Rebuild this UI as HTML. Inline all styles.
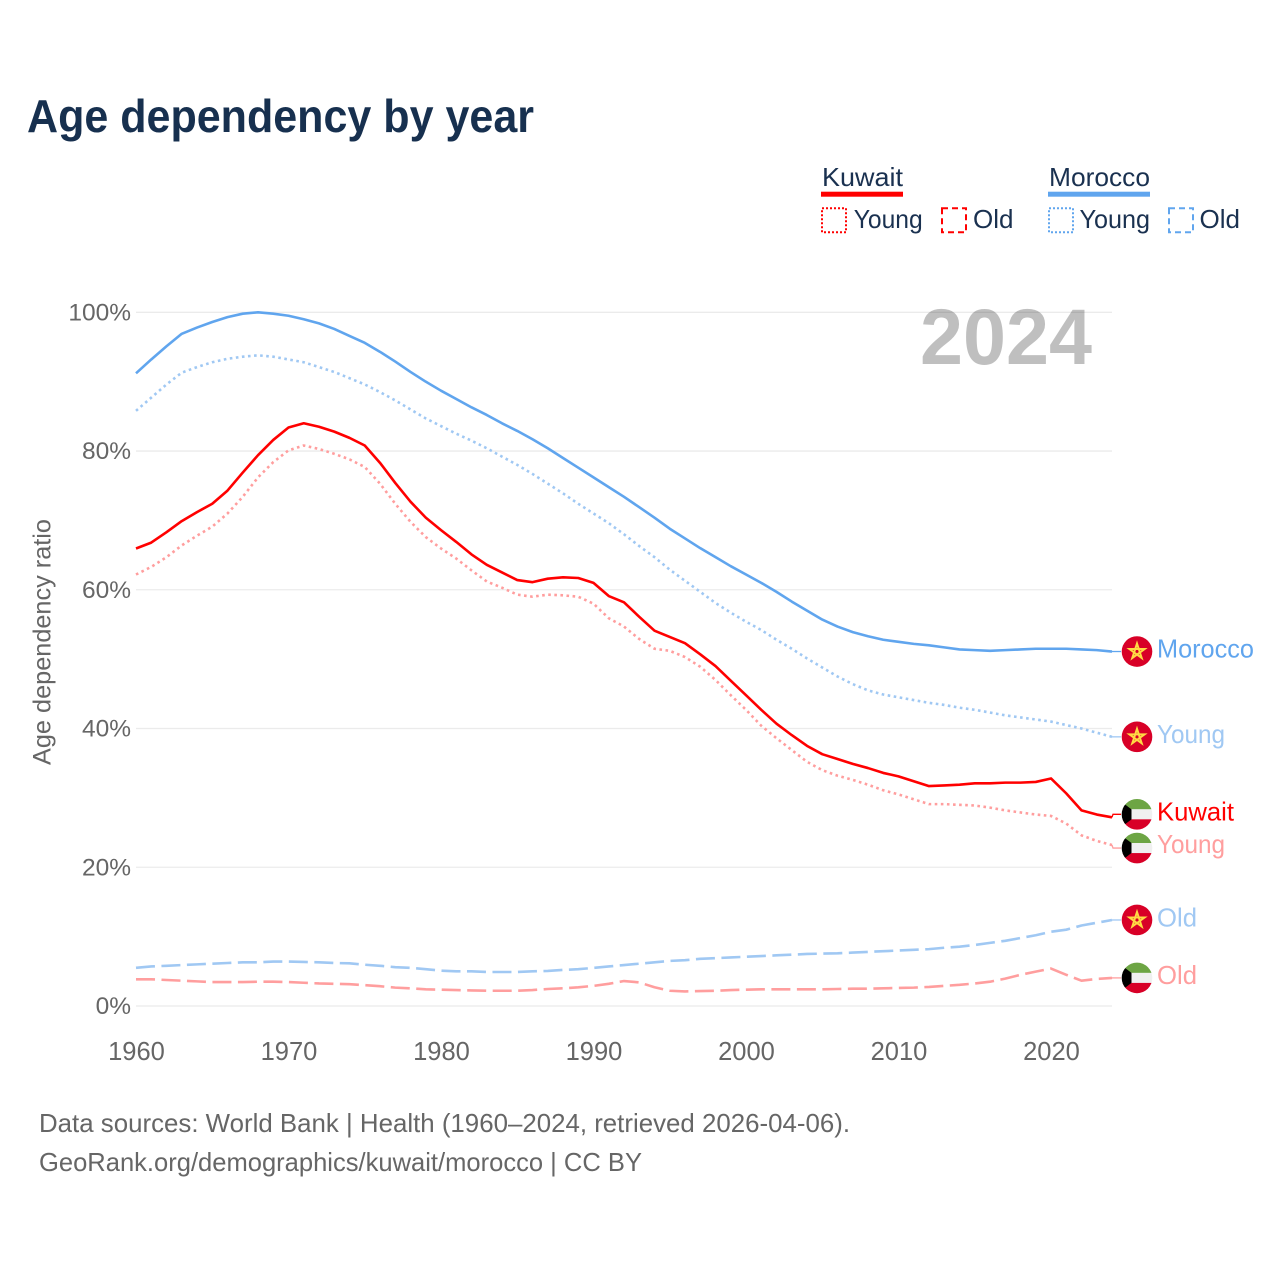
<!DOCTYPE html>
<html lang="en">
<head>
<meta charset="utf-8">
<title>Age dependency by year</title>
<style>
html,body{margin:0;padding:0;background:#fff;width:1280px;height:1280px;overflow:hidden}
svg{display:block}
text{font-family:"Liberation Sans",sans-serif}
</style>
</head>
<body>
<svg id="chart" xmlns="http://www.w3.org/2000/svg" width="1280" height="1280" viewBox="0 0 1280 1280">
  <defs>
    <clipPath id="flag-clip"><circle cx="0" cy="0" r="15.3"/></clipPath>
    <g id="flag-morocco">
      <circle cx="0" cy="0" r="15.3" fill="#d80027"/>
      <path d="M0,-8 L4.7,6.47 L-7.6,-2.47 L7.6,-2.47 L-4.7,6.47 Z" fill="none" stroke="#ffda44" stroke-width="2"/>
    </g>
    <g id="flag-kuwait" clip-path="url(#flag-clip)">
      <rect x="-16" y="-16" width="32" height="11" fill="#6da544"/>
      <rect x="-16" y="-5" width="32" height="10" fill="#f0f0f0"/>
      <rect x="-16" y="5" width="32" height="11" fill="#d80027"/>
      <polygon points="-16,-13 -5.5,-5 -5.5,5 -16,13" fill="#000"/>
    </g>
  </defs>

  <text x="27" y="132" font-size="46" font-weight="700" fill="#17304f" textLength="507" lengthAdjust="spacingAndGlyphs">Age dependency by year</text>

  <g>
    <g>
      <text x="822" y="186" font-size="26" fill="#1a3150" textLength="81" lengthAdjust="spacingAndGlyphs">Kuwait</text>
      <rect x="821" y="191.7" width="82" height="5" fill="#ff0000"/>
      <rect x="822" y="208.3" width="24" height="24" fill="none" stroke="#ff0000" stroke-width="2" stroke-dasharray="2 2"/>
      <text x="853.7" y="228" font-size="26" fill="#1a3150" textLength="69" lengthAdjust="spacingAndGlyphs">Young</text>
      <rect x="942" y="208.3" width="24" height="24" fill="none" stroke="#ff0000" stroke-width="2" stroke-dasharray="6 4"/>
      <text x="973" y="228" font-size="26" fill="#1a3150" textLength="40.5" lengthAdjust="spacingAndGlyphs">Old</text>
    </g>
    <g>
      <text x="1049" y="186" font-size="26" fill="#1a3150" textLength="101" lengthAdjust="spacingAndGlyphs">Morocco</text>
      <rect x="1048" y="191.7" width="102" height="5" fill="#60a5ee"/>
      <rect x="1049" y="208.3" width="24" height="24" fill="none" stroke="#60a5ee" stroke-width="2" stroke-dasharray="2 2"/>
      <text x="1079.5" y="228" font-size="26" fill="#1a3150" textLength="70.5" lengthAdjust="spacingAndGlyphs">Young</text>
      <rect x="1169" y="208.3" width="24" height="24" fill="none" stroke="#60a5ee" stroke-width="2" stroke-dasharray="6 4"/>
      <text x="1199.5" y="228" font-size="26" fill="#1a3150" textLength="40.5" lengthAdjust="spacingAndGlyphs">Old</text>
    </g>
  </g>

  <g id="y-grid"></g>
  <g id="y-ticks"></g>
  <g id="x-ticks"></g>

  <text transform="translate(50.5,765) rotate(-90)" x="0" y="0" font-size="25" fill="#666666" textLength="246" lengthAdjust="spacingAndGlyphs">Age dependency ratio</text>

  <text x="920" y="364" font-size="79" font-weight="700" fill="#000000" fill-opacity="0.25" textLength="172" lengthAdjust="spacingAndGlyphs">2024</text>

  <g id="series"></g>
  <g id="end-labels"></g>

  <text x="39" y="1132" font-size="26" fill="#666666" textLength="811" lengthAdjust="spacingAndGlyphs">Data sources: World Bank | Health (1960–2024, retrieved 2026-04-06).</text>
  <text x="39" y="1171" font-size="26" fill="#666666" textLength="603" lengthAdjust="spacingAndGlyphs">GeoRank.org/demographics/kuwait/morocco | CC BY</text>
</svg>

<script>
const firstYear = 1960;
const xTickYears = [1960, 1970, 1980, 1990, 2000, 2010, 2020];
const yTickValues = [0, 20, 40, 60, 80, 100];

const moroccoTotal = [91.2,93.2,95.1,96.9,97.8,98.6,99.3,99.8,100,99.8,99.5,99.0,98.4,97.6,96.6,95.6,94.3,92.9,91.4,90.0,88.7,87.5,86.3,85.2,84.0,82.9,81.7,80.4,79.0,77.6,76.2,74.8,73.4,71.9,70.4,68.8,67.4,66.0,64.7,63.4,62.2,61.0,59.7,58.3,57.0,55.7,54.7,53.9,53.3,52.8,52.5,52.2,52.0,51.7,51.4,51.3,51.2,51.3,51.4,51.5,51.5,51.5,51.4,51.3,51.1];
const moroccoYoung = [85.8,87.7,89.6,91.3,92.1,92.8,93.3,93.6,93.8,93.6,93.2,92.8,92.1,91.4,90.5,89.6,88.5,87.3,86.0,84.7,83.6,82.5,81.5,80.4,79.2,78.0,76.7,75.3,73.9,72.4,71.0,69.6,68.0,66.3,64.7,62.9,61.3,59.7,58.1,56.7,55.4,54.2,52.8,51.5,50.1,48.8,47.5,46.4,45.5,44.9,44.5,44.1,43.7,43.4,43.0,42.7,42.3,41.9,41.6,41.3,41.0,40.5,40.0,39.4,38.8];
const moroccoOld = [5.5,5.7,5.8,5.9,6.0,6.1,6.2,6.3,6.3,6.4,6.4,6.35,6.3,6.2,6.15,5.95,5.8,5.6,5.5,5.3,5.1,5.0,5.0,4.9,4.9,4.9,5.0,5.05,5.2,5.3,5.5,5.7,5.9,6.1,6.3,6.5,6.6,6.8,6.9,7.0,7.1,7.2,7.3,7.4,7.5,7.55,7.6,7.7,7.8,7.9,8.0,8.1,8.2,8.4,8.55,8.8,9.1,9.4,9.8,10.2,10.7,11.0,11.6,12.0,12.4];
const kuwaitTotal = [65.95,66.8,68.3,69.9,71.2,72.4,74.3,76.9,79.4,81.6,83.4,84.0,83.5,82.8,81.9,80.8,78.3,75.4,72.7,70.4,68.6,66.9,65.1,63.6,62.5,61.4,61.1,61.6,61.8,61.7,61.0,59.1,58.2,56.1,54.1,53.2,52.3,50.7,49.0,46.9,44.8,42.7,40.7,39.05,37.5,36.3,35.6,34.9,34.3,33.6,33.1,32.4,31.7,31.8,31.9,32.1,32.1,32.2,32.2,32.3,32.8,30.65,28.2,27.6,27.2];
const kuwaitYoung = [62.2,63.3,64.7,66.4,67.8,69.1,71.0,73.4,76.2,78.4,80.1,80.8,80.3,79.6,78.8,77.7,75.3,72.4,69.8,67.6,65.95,64.5,62.8,61.2,60.3,59.3,59.0,59.3,59.2,59.0,58.0,55.9,54.7,52.9,51.5,51.2,50.3,48.9,47.0,44.8,42.7,40.4,38.6,36.9,35.2,34.0,33.2,32.6,31.9,31.1,30.5,29.8,29.1,29.1,29.0,28.9,28.6,28.2,27.9,27.6,27.4,26.3,24.6,23.8,23.2];
const kuwaitOld = [3.85,3.85,3.75,3.65,3.55,3.45,3.45,3.45,3.5,3.5,3.45,3.35,3.25,3.2,3.15,3.0,2.85,2.65,2.55,2.4,2.35,2.3,2.25,2.2,2.2,2.2,2.3,2.45,2.55,2.7,2.9,3.2,3.6,3.4,2.7,2.2,2.1,2.15,2.2,2.3,2.35,2.4,2.4,2.4,2.4,2.4,2.45,2.5,2.5,2.55,2.6,2.65,2.75,2.9,3.05,3.25,3.5,3.95,4.5,4.95,5.4,4.5,3.65,3.9,4.05];

const NS = 'http://www.w3.org/2000/svg';
const PLOT_LEFT = 136, PLOT_RIGHT = 1112, LAST_YEAR = 2024;
function xScale(year) { return PLOT_LEFT + (year - firstYear) * (PLOT_RIGHT - PLOT_LEFT) / (LAST_YEAR - firstYear); }
function yScale(v) { return 1006 - v * 6.937; }

const gridGroup = document.getElementById('y-grid');
const yTickGroup = document.getElementById('y-ticks');
const xTickGroup = document.getElementById('x-ticks');
const seriesGroup = document.getElementById('series');
const labelGroup = document.getElementById('end-labels');

yTickValues.forEach(function (v) {
  const line = document.createElementNS(NS, 'line');
  
  
  line.setAttribute('x1', PLOT_LEFT);
  line.setAttribute('x2', PLOT_RIGHT);
  line.setAttribute('y1', yScale(v));
  line.setAttribute('y2', yScale(v));
  line.setAttribute('stroke', '#ebebeb');
  line.setAttribute('stroke-width', '1.3');
  gridGroup.appendChild(line);

  const t = document.createElementNS(NS, 'text');
  
  
  t.setAttribute('x', 131);
  t.setAttribute('y', yScale(v) + 8);
  t.setAttribute('text-anchor', 'end');
  t.setAttribute('font-size', '24.5');
  t.setAttribute('fill', '#666666');
  t.textContent = v + '%';
  yTickGroup.appendChild(t);
});

xTickYears.forEach(function (yr) {
  const t = document.createElementNS(NS, 'text');
  
  
  t.setAttribute('x', xScale(yr) + 0.5);
  t.setAttribute('y', 1060);
  t.setAttribute('text-anchor', 'middle');
  t.setAttribute('font-size', '25.5');
  t.setAttribute('fill', '#666666');
  t.textContent = yr;
  xTickGroup.appendChild(t);
});

function drawSeries(key, values, color, dash, nudge, labelOffset, flagId, labelText, labelWidth) {
  const pts = values.map(function (v, i) {
    return xScale(firstYear + i).toFixed(2) + ',' + yScale(v).toFixed(2);
  }).join(' ');
  const line = document.createElementNS(NS, 'polyline');
  
  
  line.setAttribute('points', pts);
  line.setAttribute('fill', 'none');
  line.setAttribute('stroke', color);
  line.setAttribute('stroke-width', '2.6');
  line.setAttribute('stroke-linejoin', 'round');
  if (dash) line.setAttribute('stroke-dasharray', dash);
  seriesGroup.appendChild(line);

  const endY = yScale(values[values.length - 1]);
  const flagY = endY + nudge;

  const conn = document.createElementNS(NS, 'polyline');
  
  
  conn.setAttribute('points', PLOT_RIGHT + ',' + endY + ' ' + (PLOT_RIGHT + 1) + ',' + flagY + ' 1121,' + flagY);
  conn.setAttribute('fill', 'none');
  conn.setAttribute('stroke', color);
  conn.setAttribute('stroke-width', '1.3');
  labelGroup.appendChild(conn);

  const flag = document.createElementNS(NS, 'use');
  
  
  flag.setAttribute('href', '#' + flagId);
  flag.setAttribute('transform', 'translate(1137,' + flagY + ')');
  labelGroup.appendChild(flag);

  const label = document.createElementNS(NS, 'text');
  
  
  label.setAttribute('x', 1157);
  label.setAttribute('y', flagY + labelOffset);
  label.setAttribute('font-size', '26');
  label.setAttribute('fill', color);
  label.setAttribute('textLength', labelWidth);
  label.setAttribute('lengthAdjust', 'spacingAndGlyphs');
  label.textContent = labelText;
  labelGroup.appendChild(label);
}

drawSeries('morocco-total', moroccoTotal, '#60a5ee', '', 0, 6, 'flag-morocco', 'Morocco', 97);
drawSeries('morocco-young', moroccoYoung, '#a0c8f3', '2.6 3.5', 0, 6, 'flag-morocco', 'Young', 68);
drawSeries('morocco-old', moroccoOld, '#a0c8f3', '19 6.5', 0, 6.5, 'flag-morocco', 'Old', 40);
drawSeries('kuwait-total', kuwaitTotal, '#ff0000', '', -3, 6, 'flag-kuwait', 'Kuwait', 77);
drawSeries('kuwait-young', kuwaitYoung, '#ff9e9e', '2.6 3.5', 3, 5, 'flag-kuwait', 'Young', 68);
drawSeries('kuwait-old', kuwaitOld, '#ff9e9e', '19 6.5', 0, 6, 'flag-kuwait', 'Old', 40);
</script>
</body>
</html>
